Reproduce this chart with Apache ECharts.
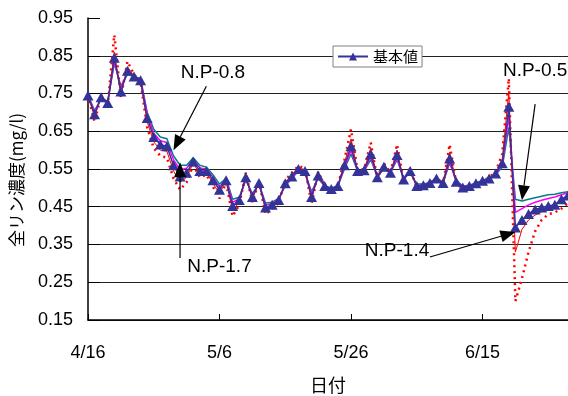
<!DOCTYPE html>
<html>
<head>
<meta charset="utf-8">
<script src="https://cdn.jsdelivr.net/npm/echarts@6/dist/echarts.min.js"></script>
<style>
  html, body { margin: 0; padding: 0; background: #fff; }
  #chart { width: 568px; height: 396px; }
</style>
</head>
<body>
<div id="chart"></div>
<script>
// 日付 (4/16 - 6/28)
const dates = [
  '4/16', '4/17', '4/18', '4/19', '4/20', '4/21', '4/22', '4/23', '4/24', '4/25', '4/26', '4/27', '4/28', '4/29', '4/30',
  '5/1', '5/2', '5/3', '5/4', '5/5', '5/6', '5/7', '5/8', '5/9', '5/10', '5/11', '5/12', '5/13', '5/14', '5/15',
  '5/16', '5/17', '5/18', '5/19', '5/20', '5/21', '5/22', '5/23', '5/24', '5/25', '5/26', '5/27', '5/28', '5/29', '5/30', '5/31',
  '6/1', '6/2', '6/3', '6/4', '6/5', '6/6', '6/7', '6/8', '6/9', '6/10', '6/11', '6/12', '6/13', '6/14', '6/15',
  '6/16', '6/17', '6/18', '6/19', '6/20', '6/21', '6/22', '6/23', '6/24', '6/25', '6/26', '6/27', '6/28'
];

// 基本値
const baseValues = [
  0.745, 0.695, 0.74, 0.725, 0.845, 0.755, 0.81, 0.795, 0.785, 0.685,
  0.635, 0.615, 0.61, 0.56, 0.53, 0.54, 0.57, 0.545, 0.545, 0.52,
  0.495, 0.52, 0.452, 0.468, 0.528, 0.476, 0.513, 0.448, 0.455, 0.468,
  0.512, 0.53, 0.55, 0.545, 0.476, 0.533, 0.505, 0.497, 0.505, 0.56,
  0.61, 0.545, 0.547, 0.59, 0.528, 0.556, 0.54, 0.587, 0.522, 0.545,
  0.505, 0.507, 0.513, 0.525, 0.513, 0.578, 0.516, 0.501, 0.505, 0.512,
  0.519, 0.525, 0.538, 0.565, 0.715, 0.395, 0.415, 0.431, 0.443, 0.448,
  0.452, 0.455, 0.47, 0.48
];

// N.P-0.5
const np05Values = [
  0.745, 0.705, 0.735, 0.73, 0.83, 0.77, 0.8, 0.795, 0.79, 0.7,
  0.655, 0.635, 0.63, 0.585, 0.56, 0.56, 0.58, 0.56, 0.555, 0.535,
  0.51, 0.525, 0.47, 0.475, 0.52, 0.485, 0.51, 0.46, 0.462, 0.472,
  0.505, 0.525, 0.545, 0.54, 0.49, 0.525, 0.505, 0.5, 0.505, 0.55,
  0.59, 0.545, 0.545, 0.575, 0.53, 0.55, 0.54, 0.575, 0.525, 0.54,
  0.51, 0.51, 0.515, 0.525, 0.515, 0.565, 0.52, 0.505, 0.507, 0.513,
  0.52, 0.525, 0.535, 0.555, 0.66, 0.47, 0.465, 0.47, 0.474, 0.478,
  0.482, 0.483, 0.487, 0.49
];

// N.P-0.8
const np08Values = [
  0.745, 0.7, 0.738, 0.728, 0.835, 0.765, 0.805, 0.795, 0.787, 0.695,
  0.645, 0.625, 0.62, 0.575, 0.548, 0.552, 0.575, 0.553, 0.55, 0.528,
  0.503, 0.522, 0.462, 0.471, 0.524, 0.48, 0.511, 0.455, 0.458, 0.47,
  0.508, 0.527, 0.547, 0.542, 0.483, 0.528, 0.505, 0.498, 0.505, 0.555,
  0.6, 0.545, 0.546, 0.582, 0.529, 0.553, 0.54, 0.58, 0.523, 0.542,
  0.507, 0.508, 0.514, 0.525, 0.514, 0.57, 0.518, 0.503, 0.506, 0.512,
  0.519, 0.525, 0.536, 0.56, 0.69, 0.435, 0.445, 0.455, 0.462, 0.467,
  0.472, 0.476, 0.482, 0.487
];

// N.P-1.4
const np14Values = [
  0.745, 0.688, 0.743, 0.722, 0.86, 0.748, 0.82, 0.797, 0.783, 0.675,
  0.622, 0.6, 0.597, 0.545, 0.515, 0.528, 0.565, 0.537, 0.54, 0.512,
  0.485, 0.517, 0.44, 0.462, 0.532, 0.47, 0.515, 0.44, 0.45, 0.465,
  0.515, 0.534, 0.553, 0.548, 0.468, 0.538, 0.505, 0.495, 0.505, 0.565,
  0.63, 0.545, 0.548, 0.605, 0.526, 0.56, 0.54, 0.6, 0.52, 0.548,
  0.503, 0.506, 0.512, 0.526, 0.512, 0.595, 0.514, 0.5, 0.504, 0.511,
  0.519, 0.526, 0.54, 0.575, 0.755, 0.33, 0.39, 0.415, 0.428, 0.437,
  0.448, 0.455, 0.465, 0.472
];

// N.P-1.7
const np17Values = [
  0.745, 0.675, 0.745, 0.718, 0.905, 0.74, 0.835, 0.8, 0.78, 0.66,
  0.605, 0.585, 0.58, 0.525, 0.495, 0.515, 0.56, 0.528, 0.535, 0.503,
  0.472, 0.513, 0.425, 0.455, 0.54, 0.462, 0.518, 0.43, 0.445, 0.46,
  0.52, 0.54, 0.558, 0.552, 0.458, 0.543, 0.505, 0.492, 0.506, 0.575,
  0.655, 0.545, 0.55, 0.62, 0.524, 0.565, 0.54, 0.615, 0.518, 0.552,
  0.5, 0.505, 0.511, 0.527, 0.51, 0.615, 0.512, 0.497, 0.503, 0.51,
  0.519, 0.527, 0.543, 0.59, 0.79, 0.2, 0.26, 0.33, 0.385, 0.415,
  0.43, 0.435, 0.445, 0.46
];

// 注記: [ラベル, 文字位置(日, 値), 矢印の始点, 矢印の先端]
const notes = [
  ['N.P-0.8', [19.45, 0.806], [17.8, 0.769], [12.8, 0.60]],
  ['N.P-1.7', [20.1, 0.290], [14.45, 0.314], [14.45, 0.568]],
  ['N.P-0.5', [68.2, 0.809], [68.25, 0.722], [66.3, 0.467]],
  ['N.P-1.4', [47.3, 0.333], [52.3, 0.317], [65.05, 0.383]]
];

const numFont = '"Liberation Sans", Arial, sans-serif';
const jpFont = '"Noto Sans CJK JP", sans-serif';

let chart = echarts.init(document.getElementById('chart'), null, {renderer: 'canvas'});

function lineSeries(name, data, color, width, type, z) {
  return {
    name: name,
    type: 'line',
    data: data,
    symbol: 'none',
    z: z,
    lineStyle: {color: color, width: width, type: type},
    itemStyle: {color: color},
    animation: false
  };
}

let option = {
  backgroundColor: '#fff',
  animation: false,
  grid: {left: 88, right: 0, top: 18, bottom: 76, outerBoundsMode: 'none', containLabel: false},
  legend: {
    data: ['基本値'],
    left: 333,
    top: 46,
    padding: [3, 4, 3, 4],
    itemWidth: 30,
    itemHeight: 10,
    itemGap: 4,
    backgroundColor: '#fff',
    borderColor: '#808080',
    borderWidth: 1,
    borderRadius: 0,
    textStyle: {fontFamily: jpFont, fontSize: 15, color: '#000'}
  },
  xAxis: {
    type: 'category',
    data: dates,
    boundaryGap: false,
    name: '日付',
    nameLocation: 'middle',
    nameGap: 56,
    nameTextStyle: {fontFamily: jpFont, fontSize: 18, color: '#000'},
    axisLine: {lineStyle: {color: '#000', width: 1.5}},
    axisTick: {show: true, inside: true, length: 6, interval: 19, lineStyle: {color: '#000'}},
    axisLabel: {interval: 19, margin: 24, fontFamily: numFont, fontSize: 18, color: '#000'},
    splitLine: {show: false}
  },
  yAxis: {
    type: 'value',
    min: 0.15,
    max: 0.95,
    interval: 0.1,
    name: '全リン濃度(mg/l)',
    nameLocation: 'middle',
    nameGap: 63,
    nameTextStyle: {fontFamily: jpFont, fontSize: 17, color: '#000', padding: [0, 22, 0, 0]},
    axisLine: {show: true, lineStyle: {color: '#000', width: 1.5}},
    axisTick: {show: true, inside: true, length: 12, lineStyle: {color: '#000'}},
    axisLabel: {
      margin: 15,
      fontFamily: numFont,
      fontSize: 18,
      color: '#000',
      formatter: function (v) { return v.toFixed(2); }
    },
    splitLine: {show: true, showMaxLine: false, lineStyle: {color: '#222', width: 1}}
  },
  series: [
    lineSeries('N.P-0.5', np05Values, '#008080', 1.5, 'solid', 2),
    lineSeries('N.P-0.8', np08Values, '#ff00ff', 1.5, 'solid', 3),
    lineSeries('N.P-1.4', np14Values, '#ff0000', 1, 'solid', 4),
    lineSeries('N.P-1.7', np17Values, '#ff0000', 2.5, [2, 4], 5),
    {
      name: '基本値',
      type: 'line',
      data: baseValues,
      z: 6,
      symbol: 'triangle',
      symbolSize: [11, 10],
      showAllSymbol: true,
      lineStyle: {color: '#333399', width: 1.5},
      itemStyle: {color: '#333399', borderWidth: 0},
      animation: false
    }
  ]
};
chart.setOption(option);

// 注記の矢印
let graphics = [];
notes.forEach(function (n) {
  let t = chart.convertToPixel({gridIndex: 0}, n[1]);
  let s = chart.convertToPixel({gridIndex: 0}, n[2]);
  let e = chart.convertToPixel({gridIndex: 0}, n[3]);
  let dx = e[0] - s[0], dy = e[1] - s[1];
  let len = Math.sqrt(dx * dx + dy * dy);
  let ux = dx / len, uy = dy / len;
  let hl = 15, hw = 12;
  let bx = e[0] - ux * hl, by = e[1] - uy * hl;
  graphics.push({
    type: 'line', z: 100,
    shape: {x1: s[0], y1: s[1], x2: bx, y2: by},
    style: {stroke: '#000', lineWidth: 1.2}
  });
  graphics.push({
    type: 'polygon', z: 100,
    shape: {points: [[e[0], e[1]], [bx - uy * hw / 2, by + ux * hw / 2], [bx + uy * hw / 2, by - ux * hw / 2]]},
    style: {fill: '#000'}
  });
  graphics.push({
    type: 'text', z: 100,
    x: t[0], y: t[1],
    style: {text: n[0], font: '19px ' + numFont, fill: '#000', align: 'center', verticalAlign: 'middle'}
  });
});
chart.setOption({graphic: graphics});
</script>
</body>
</html>
